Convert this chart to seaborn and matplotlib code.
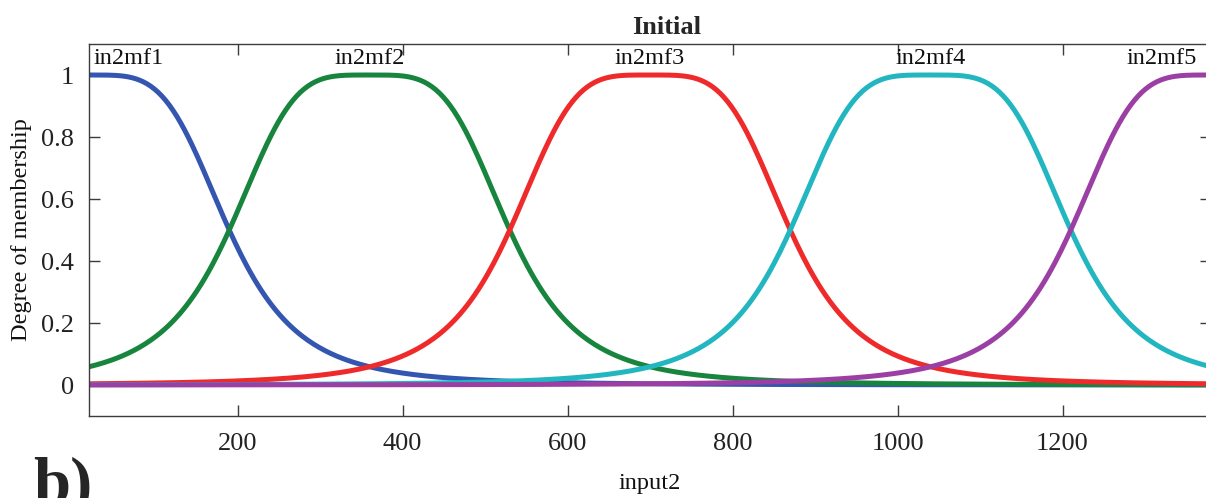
"""
Membership functions of input2 (initial FIS), redrawn with seaborn.
Bell-shaped MFs (gbellmf) rebuilt from their parameters.
"""

import numpy as np
import pandas as pd
import matplotlib
matplotlib.use("Agg")
import matplotlib.pyplot as plt
import seaborn as sns

# ---- data ----
mf_names = ["in2mf1", "in2mf2", "in2mf3", "in2mf4", "in2mf5"]
mf_centers = [20, 360, 700, 1040, 1380]
mf_widths = [170, 170, 170, 170, 170]
mf_slopes = [2, 2, 2, 2, 2]
mf_colors = ["#3556b0", "#17853d", "#ee2a2a", "#22b7c0", "#9b3fa5"]

x_range = (20, 1380)
x_ticks = [200, 400, 600, 800, 1000, 1200]
y_ticks = [0, 0.2, 0.4, 0.6, 0.8, 1]
y_tick_labels = ["0", "0.2", "0.4", "0.6", "0.8", "1"]


def gbellmf(x, a, b, c):
    return 1.0 / (1.0 + np.abs((x - c) / a) ** (2 * b))


x = np.linspace(x_range[0], x_range[1], 600)
frames = []
for name, a, b, c in zip(mf_names, mf_widths, mf_slopes, mf_centers):
    frames.append(pd.DataFrame({"input2": x, "mu": gbellmf(x, a, b, c), "mf": name}))
df = pd.concat(frames, ignore_index=True)

sns.set_theme(style="white")
plt.rcParams["font.family"] = ["Liberation Serif", "DejaVu Serif"]

fig = plt.figure(figsize=(12.06, 4.98), dpi=100)
ax = fig.add_axes([89 / 1206, 1 - 416 / 498, (1211 - 89) / 1206, (416 - 44) / 498])

sns.lineplot(
    data=df, x="input2", y="mu", hue="mf",
    hue_order=mf_names, palette=mf_colors,
    linewidth=3.6, legend=False, ax=ax,
)

ax.set_xlim(*x_range)
ax.set_ylim(-0.1, 1.1)
ax.set_xticks(x_ticks)
ax.set_xticklabels([str(t) for t in x_ticks])
ax.set_yticks(y_ticks)
ax.set_yticklabels(y_tick_labels)

for side in ["left", "right", "top", "bottom"]:
    ax.spines[side].set_color("#3c3c3c")
    ax.spines[side].set_linewidth(1.0)
ax.tick_params(direction="in", length=8, width=1.0, color="#3c3c3c",
               left=True, bottom=True, top=True, right=True,
               labelsize=19, labelcolor="#222222")
ax.tick_params(axis="x", pad=12)
ax.tick_params(axis="y", pad=11)

ax.set_xlabel("input2", fontsize=17.5, labelpad=13, color="#111111")
ax.set_ylabel("Degree of membership", fontsize=17.5, labelpad=6, color="#111111")
ax.set_title("Initial", fontsize=19, fontweight="bold", x=0.515, pad=7)

# MF names above each curve, kept inside the axes like MATLAB's plotmf
for i, (name, c) in enumerate(zip(mf_names, mf_centers)):
    if i == 0:
        ha, dx = "left", 3
    elif i == len(mf_names) - 1:
        ha, dx = "right", -10
    else:
        ha, dx = "center", 0
    ax.annotate(name, xy=(c, 1.0), xytext=(dx, 4), textcoords="offset points",
                ha=ha, va="bottom", fontsize=17.5, color="#111111")

# panel letter, cut by the bottom edge as in the source figure
fig.text(33 / 1206, 1 - 456 / 498, "b)", fontsize=48, fontweight="bold",
         ha="left", va="top")

fig.savefig("out.png", dpi=100)
